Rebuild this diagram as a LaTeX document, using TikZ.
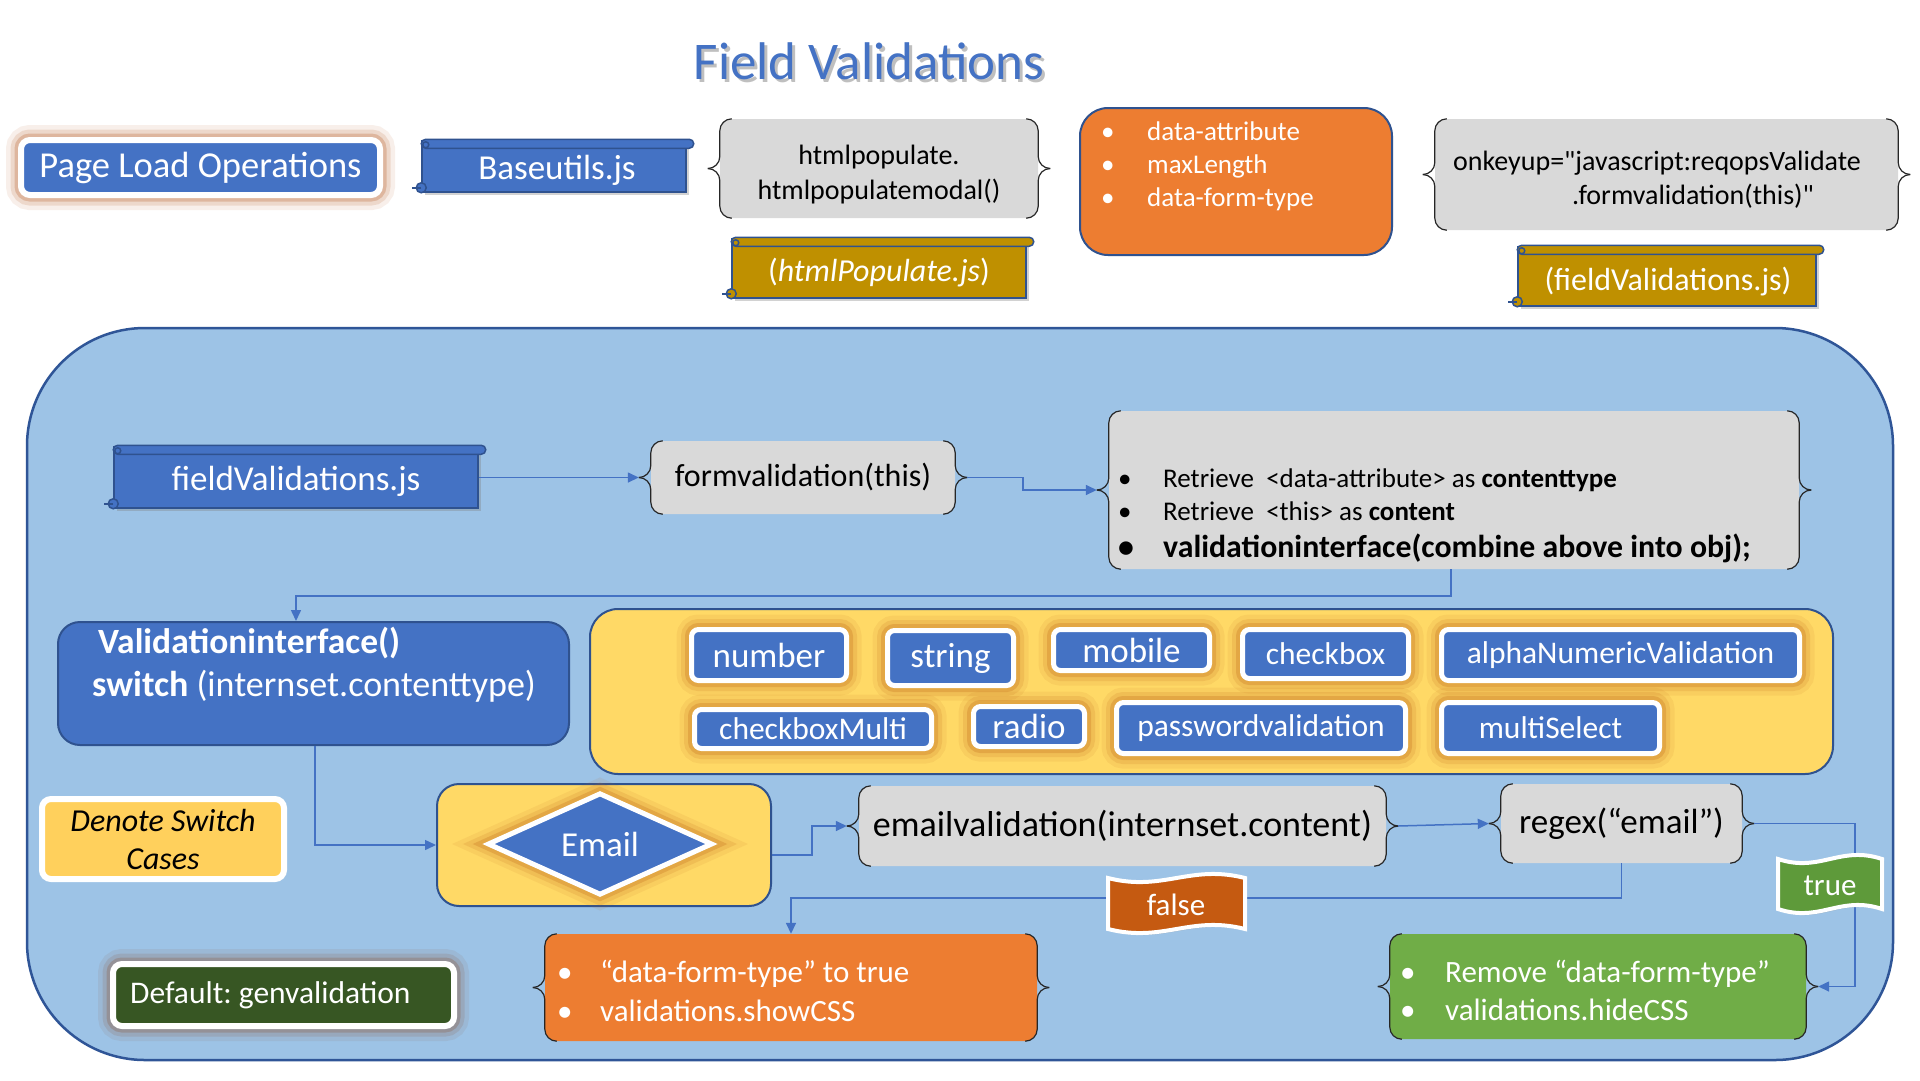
\documentclass[tikz,border=0pt]{standalone}
\usepackage{fontspec}
\setmainfont{Carlito}
\newfontfamily\plainq{Carlito}
\usetikzlibrary{shapes.geometric,arrows.meta,shadows}
\definecolor{bluebox}{HTML}{4472C4}
\definecolor{blueedge}{HTML}{2F528F}
\definecolor{panelblue}{HTML}{9DC3E6}
\definecolor{paneledge}{HTML}{2F5597}
\definecolor{goldc}{HTML}{BF9000}
\definecolor{orangec}{HTML}{ED7D31}
\definecolor{yellowc}{HTML}{FFD966}
\definecolor{grayc}{HTML}{D9D9D9}
\definecolor{greenc}{HTML}{70AD47}
\definecolor{dgreen}{HTML}{375623}
\definecolor{rust}{HTML}{B4561E}
\definecolor{glowc}{HTML}{C0661A}
\definecolor{glowb}{HTML}{8C5030}
\definecolor{truegreen}{HTML}{5E9A3A}
\definecolor{falsefill}{HTML}{C55A11}
\newcommand\fz[2]{\fontsize{#1}{#2}\selectfont}
\tikzset{
 haloeff/.style={preaction={draw=#1,draw opacity=.09,line width=30pt},preaction={draw=#1,draw opacity=.15,line width=21pt},preaction={draw=#1,draw opacity=.26,line width=13pt}},
 btn/.style={rectangle, rounded corners=7pt, fill=bluebox, draw=white, line width=5pt, text=white, inner sep=0pt, haloeff=glowc},
 scrollbody/.style={rectangle, draw=blueedge, line width=1.5pt, inner sep=0pt, drop shadow={opacity=.35,shadow xshift=3pt,shadow yshift=-3pt}},
 scrolltext/.style={text=white, inner sep=0pt},
 scrollline/.style={draw=blueedge, line width=1.5pt},
 bracebox/.style={rectangle, rounded corners=12pt, fill=grayc, inner sep=0pt},
 braceline/.style={draw=black!85, line width=1.2pt, rounded corners=12pt},
 conn/.style={draw=bluebox, line width=1.5pt, -{Triangle[length=11pt,width=10pt]}},
 bullettext/.style={anchor=base west, inner sep=0pt},
 flagtext/.style={text=white, font=\fz{31}{37}},
}
\newcommand\scrolldeco[2]{%
 \draw[scrollline, fill=#2, rounded corners=4.5pt] ([yshift=1pt]#1.north west) rectangle ([xshift=7pt,yshift=-8pt]#1.north east);
 \draw[scrollline, fill=#2] ([xshift=4.5pt,yshift=-4.5pt]#1.north west) circle[radius=3pt];
 \draw[scrollline, fill=#2] ([yshift=5pt]#1.south west) circle[radius=5pt];
 \draw[scrollline] ([yshift=5pt]#1.south west) -- ([xshift=-9pt,yshift=5pt]#1.south west);
}
\newcommand\bracesides[1]{%
 \draw[braceline] ([xshift=12pt]#1.north west) -- (#1.north west) -- (#1.west) -- ([xshift=-12pt]#1.west);
 \draw[braceline] ([xshift=-12pt]#1.west) -- (#1.west) -- (#1.south west) -- ([xshift=12pt]#1.south west);
 \draw[braceline] ([xshift=-12pt]#1.north east) -- (#1.north east) -- (#1.east) -- ([xshift=12pt]#1.east);
 \draw[braceline] ([xshift=12pt]#1.east) -- (#1.east) -- (#1.south east) -- ([xshift=-12pt]#1.south east);
}
\begin{document}
\frenchspacing
\begin{tikzpicture}[x=1pt,y=-1pt]
\useasboundingbox (0,0) rectangle (1920,1080);
\fill[white] (0,0) rectangle (1920,1080);

% title
\node[text=black!45, opacity=.55, font=\fz{53}{60}] (titleshadow) at (872,64) {Field Validations};
\node[text=bluebox, font=\fz{53}{60}] (title) at (869,61) {Field Validations};

% top row
\node[rectangle, rounded corners=9pt, fill=bluebox, draw=white, line width=6pt, haloeff=rust, minimum width=359pt, minimum height=55pt, inner sep=0pt, text=white, font=\fz{36.5}{43}] (pload) at (200.5,167.5) {Page Load Operations};

\node[scrollbody, fill=bluebox, minimum width=264pt, minimum height=51pt] (base) at (554,166.5) {};
\scrolldeco{base}{bluebox}
\node[scrolltext, font=\fz{35}{42}] (basetxt) at (557,170) {Baseutils.js};

\node[bracebox, minimum width=318pt, minimum height=99pt] (hpop) at (879,168.5) {};
\bracesides{hpop}
\node[align=center, inner sep=0pt, font=\fz{28}{35}] (hpoptxt) at (879,175) {htmlpopulate.\\htmlpopulatemodal()};

\node[scrollbody, fill=goldc, minimum width=294pt, minimum height=59pt] (hpjs) at (879,268.5) {};
\scrolldeco{hpjs}{goldc}
\node[scrolltext, font=\fz{32}{38}] (hpjstxt) at (879,273) {(\textit{htmlPopulate.js})};

\node[rectangle, rounded corners=28pt, fill=orangec, draw=blueedge, line width=2pt, minimum width=312pt, minimum height=147pt] (attrs) at (1236,181.5) {};
\node[bullettext, text=white, font=\fz{27}{32}] (at1) at (1101,140) {\makebox[46pt][l]{•}data-attribute};
\node[bullettext, text=white, font=\fz{27}{32}] (at2) at (1101,173) {\makebox[46pt][l]{•}maxLength};
\node[bullettext, text=white, font=\fz{27}{32}] (at3) at (1101,206) {\makebox[46pt][l]{•}data-form-type};

\node[bracebox, minimum width=463pt, minimum height=111pt] (okey) at (1666.5,174.5) {};
\bracesides{okey}
\node[font=\plainq\fz{28}{34}] (ok1) at (1657,163) {onkeyup="javascript:reqopsValidate};
\node[font=\plainq\fz{28}{34}] (ok2) at (1693,196) {.formvalidation(this)"};

\node[scrollbody, fill=goldc, minimum width=298pt, minimum height=59pt] (fvgold) at (1667,276.5) {};
\scrolldeco{fvgold}{goldc}
\node[scrolltext, font=\fz{32}{38}] (fvgoldtxt) at (1668,282) {(fieldValidations.js)};

% big panel
\node[rectangle, rounded corners=118pt, fill=panelblue, draw=paneledge, line width=2.5pt, minimum width=1866pt, minimum height=732pt, inner sep=0pt] (panel) at (960,694) {};

\node[scrollbody, fill=bluebox, minimum width=364pt, minimum height=61pt] (fvjs) at (296,477.5) {};
\scrolldeco{fvjs}{bluebox}
\node[scrolltext, font=\fz{35}{42}] (fvjstxt) at (296,481) {fieldValidations.js};

\node[bracebox, minimum width=304pt, minimum height=73pt, font=\fz{32}{38}] (fval) at (803,477.5) {formvalidation(this)};
\bracesides{fval}

\node[bracebox, minimum width=690pt, minimum height=158pt] (retr) at (1454,490) {};
\bracesides{retr}
\node[bullettext, font=\fz{27}{32}] (rt1) at (1118,487) {\makebox[45pt][l]{•}Retrieve\ \ <data-attribute> as \textbf{contenttype}};
\node[bullettext, font=\fz{27}{32}] (rt2) at (1118,520) {\makebox[45pt][l]{•}Retrieve\ \ <this> as \textbf{content}};
\node[bullettext, font=\fz{31.8}{38}\bfseries] (rt3) at (1118,557) {\makebox[45pt][l]{•}validationinterface(combine above into obj);};

\node[rectangle, rounded corners=22pt, fill=bluebox, draw=blueedge, line width=2pt, minimum width=511pt, minimum height=123pt] (vint) at (313.5,683.5) {};
\node[bullettext, text=white, font=\fz{35.5}{42}\bfseries] (vi1) at (98,653) {Validationinterface()};
\node[bullettext, text=white, font=\fz{36}{42}] (vi2) at (92,696) {\textbf{switch} (internset.contenttype)};

\node[rectangle, rounded corners=28pt, fill=yellowc, draw=blueedge, line width=2pt, minimum width=1243pt, minimum height=165pt] (cases) at (1211.5,691.5) {};

\node[btn, minimum width=155pt, minimum height=51pt, font=\fz{35}{42}] (bnum) at (769,655) {number};
\node[btn, minimum width=126pt, minimum height=55pt, font=\fz{35}{42}] (bstr) at (950.5,658) {string};
\node[btn, minimum width=156pt, minimum height=41pt, font=\fz{35}{42}] (bmob) at (1131.5,650) {mobile};
\node[btn, minimum width=166pt, minimum height=49pt, font=\fz{31.5}{38}] (bchk) at (1325.5,654) {checkbox};
\node[btn, minimum width=358pt, minimum height=51pt, font=\fz{31.5}{38}] (balp) at (1620.5,655) {alphaNumericValidation};
\node[btn, minimum width=237pt, minimum height=39pt, font=\fz{31.5}{38}] (bcm) at (813,729) {checkboxMulti};
\node[btn, minimum width=111pt, minimum height=40pt, font=\fz{35}{42}] (brad) at (1029,726.5) {radio};
\node[btn, minimum width=289pt, minimum height=51pt, font=\fz{31.5}{38}] (bpwd) at (1261,728) {passwordvalidation};
\node[btn, minimum width=218pt, minimum height=51pt, font=\fz{31.5}{38}] (bms) at (1550.5,728) {multiSelect};

\node[rectangle, rounded corners=9pt, fill=yellowc!90!orange, draw=white, line width=6pt, minimum width=242pt, minimum height=80pt, inner sep=0pt, align=center, font=\fz{32}{38}\itshape, drop shadow={opacity=.3,shadow xshift=2pt,shadow yshift=-2pt}] (denote) at (163,839) {Denote Switch\\Cases};

\node[rectangle, rounded corners=22pt, fill=yellowc, draw=blueedge, line width=2pt, minimum width=334pt, minimum height=122pt] (ebox) at (604,845) {};
\node[diamond, fill=bluebox, draw=white, line width=5pt, haloeff=glowc, minimum width=225pt, minimum height=77pt, inner sep=0pt, text=white, font=\fz{35}{42}] (email) at (600,844) {Email};

\node[bracebox, minimum width=527pt, minimum height=80pt, font=\fz{36}{42}] (evl) at (1122.5,826) {emailvalidation(internset.content)};
\bracesides{evl}

\node[bracebox, minimum width=241pt, minimum height=79pt, font=\fz{35}{42}] (rgx) at (1621.5,823.5) {regex(“email”)};
\bracesides{rgx}

\node[bracebox, fill=orangec, minimum width=492pt, minimum height=107pt] (obox) at (791,987.5) {};
\bracesides{obox}
\node[bullettext, text=white, font=\fz{31}{37}] (ob1) at (557,982) {\makebox[43pt][l]{•}“data-form-type” to true};
\node[bullettext, text=white, font=\fz{31}{37}] (ob2) at (557,1021) {\makebox[43pt][l]{•}validations.showCSS};

\node[bracebox, fill=greenc, minimum width=416pt, minimum height=105pt] (gbox) at (1598,986.5) {};
\bracesides{gbox}
\node[bullettext, text=white, font=\fz{31}{37}] (gb1) at (1400,982) {\makebox[45pt][l]{•}Remove “data-form-type”};
\node[bullettext, text=white, font=\fz{31}{37}] (gb2) at (1400,1020) {\makebox[45pt][l]{•}validations.hideCSS};

\node[rectangle, rounded corners=9pt, fill=dgreen, draw=white, line width=6pt, haloeff=glowb, minimum width=341pt, minimum height=62pt, inner sep=0pt] (dflt) at (283.5,995) {};
\node[anchor=west, inner sep=0pt, text=white, font=\fz{31.5}{38}] (dfltxt) at (130,995) {Default: genvalidation};

% connectors
\draw[conn] (fvjs.east) -- ([xshift=-12pt]fval.west);
\draw[conn] ([xshift=12pt]fval.east) -- ++(56,0) |- ([xshift=-12pt]retr.west);
\draw[conn] ([xshift=-3pt]retr.south) -- ++(0,27) -| ([xshift=-17.5pt]vint.north);
\draw[conn] ([xshift=1.5pt]vint.south) |- (ebox.west);
\draw[conn] ([yshift=-10pt]ebox.east) -- ++(40,0) |- ([xshift=-12pt]evl.west);
\draw[conn] ([xshift=12pt]evl.east) -- ([xshift=-12pt]rgx.west);
\draw[conn] (rgx.south) -- ++(0,35) -| (obox.north);
\draw[conn] ([xshift=12pt]rgx.east) -- ++(101,0) |- ([xshift=12pt]gbox.east);

% flags
\draw[white, line width=4pt, fill=falsefill, drop shadow={opacity=.3,shadow xshift=2pt,shadow yshift=-2pt}] (1108,878) .. controls (1163,892) and (1190,864) .. (1245,878) -- (1245,929) .. controls (1190,915) and (1163,943) .. (1108,929) -- cycle;
\node[flagtext] (ftxt) at (1176,905) {false};
\draw[white, line width=4pt, fill=truegreen, drop shadow={opacity=.3,shadow xshift=2pt,shadow yshift=-2pt}] (1778,859) .. controls (1820,873) and (1840,845) .. (1882,859) -- (1882,909) .. controls (1840,895) and (1820,923) .. (1778,909) -- cycle;
\node[flagtext] (ttxt) at (1830,886) {true};
\end{tikzpicture}
\end{document}
